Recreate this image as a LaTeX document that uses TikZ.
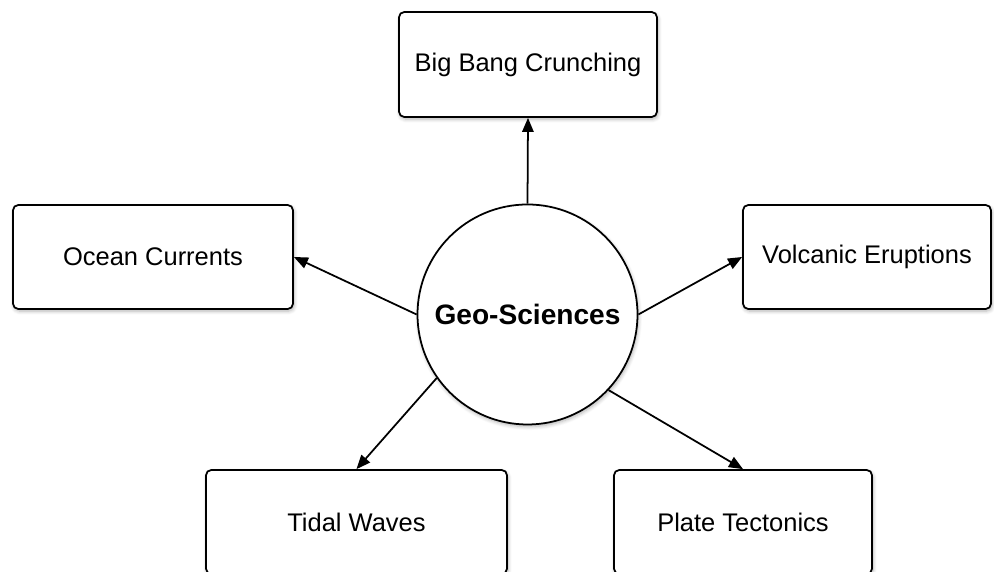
\documentclass[tikz,border=0pt]{standalone}
\usepackage{fontspec}
\setmainfont{Liberation Sans}
\usetikzlibrary{arrows.meta}
\usetikzlibrary{shadows.blur}

\begin{document}
\begin{tikzpicture}[
    topic/.style={draw, line width=1pt, rounded corners=3pt, fill=white,
      blur shadow={shadow blur steps=6, shadow xshift=0.6pt, shadow yshift=-1.2pt, shadow opacity=30},
      align=center, inner sep=0pt, font=\fontsize{14.5}{17}\selectfont},
    hub/.style={draw, circle, line width=1pt, fill=white,
      blur shadow={shadow blur steps=6, shadow xshift=0.6pt, shadow yshift=-1.2pt, shadow opacity=30},
      minimum size=4.4cm, inner sep=0pt, font=\fontsize{16}{19}\selectfont\bfseries},
    link/.style={line width=1pt, -{Triangle[length=8pt,width=6.5pt]}}
  ]
  % Frame
  \useasboundingbox (0,0) rectangle (19.88,11.44);

  % Centre
  \node[hub] (geo) at (10.55,5.15) {Geo-Sciences};

  % Topics
  \node[topic, minimum width=5.16cm, minimum height=2.1cm] (bigbang) at (10.56,10.15) {Big Bang Crunching};
  \node[topic, minimum width=5.6cm, minimum height=2.08cm] (ocean) at (3.06,6.3) {Ocean Currents};
  \node[topic, minimum width=4.96cm, minimum height=2.08cm] (volcanic) at (17.34,6.3) {Volcanic Eruptions};
  \node[topic, minimum width=6.02cm, minimum height=2.08cm] (tidal) at (7.13,1.0) {Tidal Waves};
  \node[topic, minimum width=5.16cm, minimum height=2.08cm] (plate) at (14.86,1.0) {Plate Tectonics};

  % Arrows
  \draw[link] (geo.north) -- (bigbang.south);
  \draw[link] (geo.west) -- (ocean.east);
  \draw[link] (geo.east) -- (volcanic.west);
  \draw[link] (geo.215) -- (tidal.north);
  \draw[link] (geo.317) -- (plate.north);

\end{tikzpicture}
\end{document}
